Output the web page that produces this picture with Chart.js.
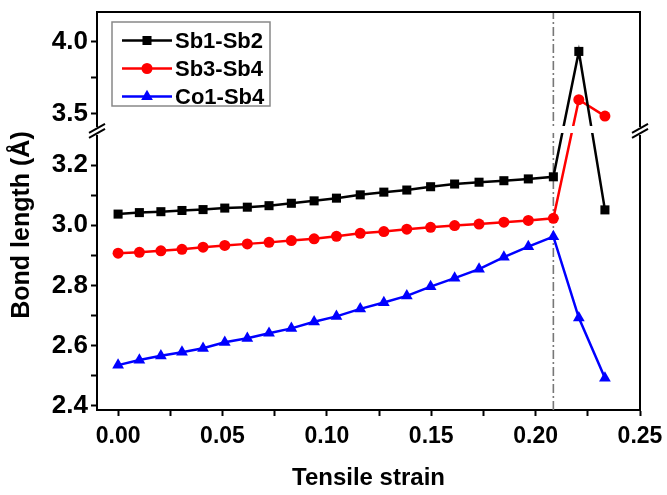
<!DOCTYPE html>
<html>
<head>
<meta charset="utf-8">
<script src="https://cdn.jsdelivr.net/npm/chart.js@4.4.0/dist/chart.umd.min.js"></script>
<style>
  html, body { margin: 0; padding: 0; background: #fff; }
  #wrap { width: 667px; height: 495px; }
</style>
</head>
<body>
<div id="wrap"><canvas id="myChart" width="667" height="495"></canvas></div>
<script>
// strain values and bond lengths
var strain = [0, 0.0102, 0.0205, 0.0306, 0.0407, 0.0511, 0.0619, 0.0723, 0.0830, 0.0939, 0.1046,
              0.1160, 0.1273, 0.1383, 0.1497, 0.1612, 0.1729, 0.1848, 0.1965, 0.2085, 0.2207, 0.2332];
var sb1sb2 = [3.037, 3.042, 3.045, 3.049, 3.052, 3.057, 3.060, 3.065, 3.073, 3.081, 3.090,
              3.101, 3.110, 3.117, 3.128, 3.137, 3.143, 3.148, 3.154, 3.161, 3.932, 3.051];
var sb3sb4 = [2.907, 2.910, 2.915, 2.920, 2.927, 2.933, 2.938, 2.943, 2.949, 2.955, 2.963,
              2.973, 2.979, 2.987, 2.993, 2.999, 3.004, 3.010, 3.016, 3.023, 3.595, 3.481];
var co1sb4 = [2.535, 2.552, 2.566, 2.578, 2.591, 2.611, 2.624, 2.641, 2.657, 2.679, 2.697,
              2.722, 2.743, 2.765, 2.796, 2.824, 2.854, 2.894, 2.929, 2.962, 2.692, 2.492];
var seriesNames = ['Sb1-Sb2', 'Sb3-Sb4', 'Co1-Sb4'];
var transitionStrain = 0.2085;

var xMajor = [0, 0.05, 0.10, 0.15, 0.20, 0.25];
var xMinor = [0.025, 0.075, 0.125, 0.175, 0.225];
var yMajor = [2.4, 2.6, 2.8, 3.0, 3.2, 3.5, 4.0];
var yMinor = [2.5, 2.7, 2.9, 3.1, 3.75];

// broken y axis: lower part 2.386..3.31, upper part 3.37..4.207 (compressed)
var BREAK_LO = 3.31, BREAK_HI = 3.37, UPPER_RATIO = 0.4766;
var Y_MIN = 2.3857, Y_MAX = 4.207;
function toT(v){ return v <= BREAK_LO ? v : BREAK_LO + (v - BREAK_HI) * UPPER_RATIO; }
function fromT(t){ return t <= BREAK_LO + 1e-9 ? t : BREAK_HI + (t - BREAK_LO) / UPPER_RATIO; }

var FONT = "'Liberation Sans', Arial, sans-serif";

function pts(arr){
  return strain.map(function(x, i){ return {x: x, y: toT(arr[i])}; });
}

var styles = [
  {color: '#000000', pointStyle: 'rect', radius: 6.4},
  {color: '#ff0000', pointStyle: 'circle', radius: 5.5},
  {color: '#0000ff', pointStyle: 'triangle', radius: 6.8}
];
var values = [sb1sb2, sb3sb4, co1sb4];

var datasets = values.map(function(v, i){
  return {
    label: seriesNames[i],
    data: pts(v),
    borderColor: styles[i].color,
    backgroundColor: styles[i].color,
    borderWidth: 2.5,
    pointStyle: styles[i].pointStyle,
    pointRadius: styles[i].radius,
    pointBorderWidth: 0,
    pointBackgroundColor: styles[i].color,
    tension: 0
  };
});

var breakPlugin = {
  id: 'breakPlugin',
  beforeDatasetsDraw: function(chart){
    var ctx = chart.ctx, a = chart.chartArea;
    var px = chart.scales.x.getPixelForValue(transitionStrain);
    ctx.save();
    ctx.strokeStyle = '#777';
    ctx.lineWidth = 1.6;
    ctx.setLineDash([9, 3, 2, 3]);
    ctx.beginPath();
    ctx.moveTo(px, a.bottom);
    ctx.lineTo(px, a.top);
    ctx.stroke();
    ctx.restore();
  },
  afterDatasetsDraw: function(chart){
    var ctx = chart.ctx, a = chart.chartArea;
    var yb = chart.scales.y.getPixelForValue(BREAK_LO) - 1;
    ctx.save();
    // gap through the lines at the break
    ctx.fillStyle = '#fff';
    ctx.fillRect(a.left + 2, yb - 5, a.right - a.left - 4, 7);
    // frame top / right
    ctx.strokeStyle = '#000';
    ctx.lineWidth = 2;
    ctx.beginPath();
    ctx.moveTo(a.left, a.top);
    ctx.lineTo(a.right, a.top);
    ctx.lineTo(a.right, a.bottom);
    ctx.stroke();
    // break marks on both axes
    [a.left, a.right].forEach(function(x){
      ctx.fillStyle = '#fff';
      ctx.fillRect(x - 3, yb - 4, 6, 8);
      ctx.strokeStyle = '#000';
      ctx.lineWidth = 2;
      ctx.beginPath();
      ctx.moveTo(x - 8, yb + 2); ctx.lineTo(x + 8, yb - 7);
      ctx.moveTo(x - 8, yb + 7); ctx.lineTo(x + 8, yb - 2);
      ctx.stroke();
    });
    // y axis title
    ctx.save();
    ctx.translate(22, 225);
    ctx.rotate(-Math.PI / 2);
    ctx.font = 'bold 25px ' + FONT;
    ctx.fillStyle = '#000';
    ctx.textAlign = 'center';
    ctx.textBaseline = 'middle';
    ctx.fillText('Bond length (Å)', 0, 0);
    ctx.restore();
    // legend
    var lx = a.left + 15, ly = a.top + 10, lw = 158, lh = 84;
    ctx.fillStyle = '#fff';
    ctx.fillRect(lx, ly, lw, lh);
    ctx.strokeStyle = '#888';
    ctx.lineWidth = 1.5;
    ctx.strokeRect(lx, ly, lw, lh);
    ctx.font = 'bold 22px ' + FONT;
    ctx.textBaseline = 'middle';
    ctx.textAlign = 'left';
    chart.data.datasets.forEach(function(ds, i){
      var ry = ly + 18.5 + i * 28;
      ctx.strokeStyle = ds.borderColor;
      ctx.lineWidth = 2.5;
      ctx.beginPath();
      ctx.moveTo(lx + 10, ry); ctx.lineTo(lx + 60, ry);
      ctx.stroke();
      ctx.fillStyle = ds.borderColor;
      Chart.helpers.drawPoint(ctx, {pointStyle: ds.pointStyle, radius: ds.pointRadius, rotation: 0, borderWidth: 0}, lx + 35, ry);
      ctx.fillStyle = '#000';
      ctx.fillText(ds.label, lx + 63, ry + 1);
    });
    ctx.restore();
  }
};

var myChart = new Chart(document.getElementById('myChart').getContext('2d'), {
  type: 'line',
  data: { datasets: datasets },
  plugins: [breakPlugin],
  options: {
    responsive: false,
    animation: false,
    events: [],
    layout: { padding: { left: 0, right: 27, top: 12, bottom: 0 } },
    plugins: { legend: { display: false }, tooltip: { enabled: false } },
    scales: {
      x: {
        type: 'linear',
        min: -0.0101,
        max: 0.25,
        afterFit: function(s){ s.height = 85; s.paddingLeft = 0; s.paddingRight = 0; },
        afterBuildTicks: function(s){
          s.ticks = xMajor.concat(xMinor).sort(function(a, b){ return a - b; })
            .map(function(v){ return {value: v}; });
        },
        border: { color: '#000', width: 2 },
        grid: { drawOnChartArea: false, drawTicks: true, tickLength: 6, color: '#000', tickWidth: 2 },
        ticks: {
          autoSkip: false,
          maxRotation: 0,
          padding: 7,
          color: '#000',
          font: { family: FONT, size: 23, weight: 'bold' },
          callback: function(v){
            var m = xMajor.find(function(t){ return Math.abs(t - v) < 1e-6; });
            return m === undefined ? '' : m.toFixed(2);
          }
        },
        title: {
          display: true,
          text: 'Tensile strain',
          color: '#000',
          font: { family: FONT, size: 24, weight: 'bold' },
          padding: { top: 0, bottom: 2 }
        }
      },
      y: {
        type: 'linear',
        min: toT(Y_MIN),
        max: toT(Y_MAX),
        afterFit: function(s){ s.width = 97; s.paddingTop = 0; s.paddingBottom = 0; },
        afterBuildTicks: function(s){
          s.ticks = yMajor.concat(yMinor).sort(function(a, b){ return a - b; })
            .map(function(v){ return {value: toT(v)}; });
        },
        border: { color: '#000', width: 2 },
        grid: { drawOnChartArea: false, drawTicks: true, tickLength: 6, color: '#000', tickWidth: 2 },
        ticks: {
          autoSkip: false,
          padding: 3,
          color: '#000',
          font: { family: FONT, size: 26, weight: 'bold' },
          callback: function(t){
            var v = fromT(t);
            var m = yMajor.find(function(q){ return Math.abs(q - v) < 1e-4; });
            return m === undefined ? '' : m.toFixed(1);
          }
        },
        title: { display: false }
      }
    }
  }
});
</script>
</body>
</html>
